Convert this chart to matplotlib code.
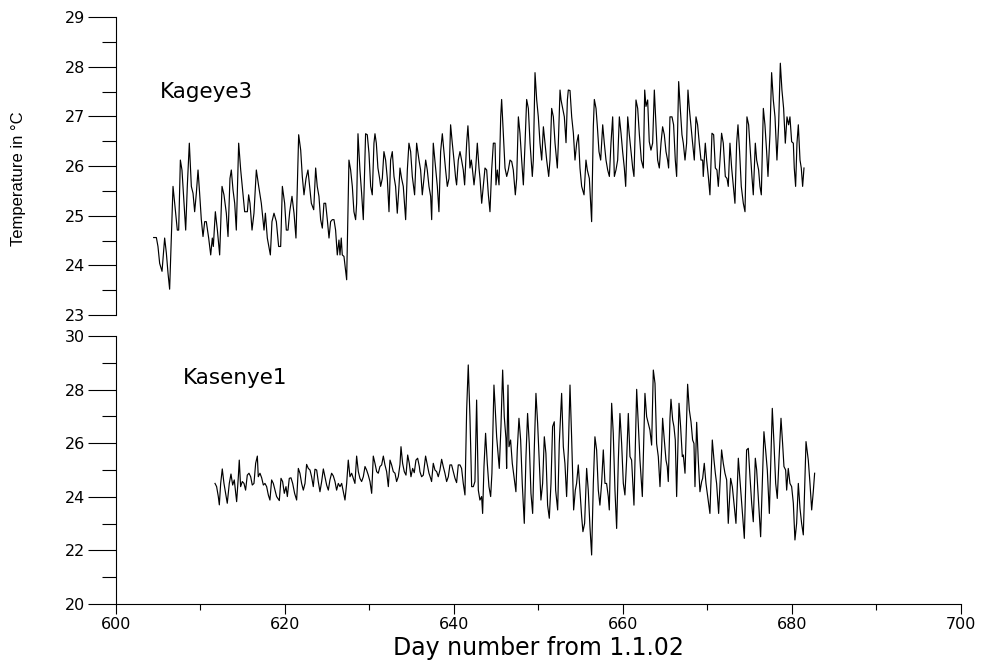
import matplotlib
matplotlib.use("Agg")
import matplotlib.pyplot as plt
from matplotlib.ticker import MultipleLocator

plt.rcParams['font.family'] = ['DejaVu Sans']

# Kageye3 (top panel) - day number, temperature
kageye_day = [
    604.46, 604.78, 604.97, 605.17, 605.45, 605.68, 605.76, 605.96, 606.16, 606.35,
    606.55, 606.75, 606.95, 607.26, 607.42, 607.62, 607.81, 608.05, 608.25, 608.44,
    608.68, 608.92, 609.12, 609.31, 609.51, 609.71, 609.90, 610.10, 610.30, 610.50,
    610.69, 610.97, 611.21, 611.40, 611.52, 611.76, 612.00, 612.27, 612.55, 612.78,
    613.06, 613.26, 613.49, 613.65, 613.85, 614.05, 614.24, 614.52, 614.76, 615.03,
    615.23, 615.55, 615.70, 615.86, 616.10, 616.33, 616.61, 616.89, 617.20, 617.52,
    617.68, 617.91, 618.27, 618.46, 618.70, 618.98, 619.25, 619.49, 619.69, 619.96,
    620.16, 620.36, 620.56, 620.83, 621.07, 621.30, 621.62, 621.86, 622.05, 622.25,
    622.49, 622.72, 622.92, 623.12, 623.40,
    623.63, 623.82, 624.02, 624.22, 624.42, 624.61, 624.81, 625.01, 625.21, 625.40,
    625.60, 625.80, 625.99, 626.19, 626.39, 626.51, 626.66, 626.78, 626.98, 627.30,
    627.57, 627.77, 627.97, 628.16, 628.36, 628.48, 628.64, 628.87, 629.07, 629.27,
    629.54, 629.74, 629.94, 630.14, 630.33, 630.53, 630.65, 630.81, 631.00, 631.20,
    631.32, 631.52, 631.71, 631.91, 632.11, 632.31, 632.50, 632.70, 632.90, 633.09,
    633.29, 633.49, 633.61, 633.80, 634.00, 634.28, 634.48, 634.67, 634.87, 635.07,
    635.34, 635.58, 635.86, 636.05, 636.25, 636.45, 636.65, 636.84, 637.04, 637.24,
    637.36, 637.55, 637.83, 638.03, 638.22, 638.42, 638.62, 638.81, 639.01, 639.21,
    639.41, 639.60, 639.80, 640.00, 640.20, 640.31, 640.51, 640.71, 640.90, 641.10,
    641.26, 641.50, 641.65, 641.77, 641.89, 642.05, 642.17, 642.37, 642.56, 642.76,
    642.96,
    643.08, 643.28, 643.47, 643.67, 643.87, 644.07, 644.26, 644.46, 644.66, 644.86,
    644.97, 645.13, 645.33, 645.53, 645.64, 645.84, 646.04, 646.24, 646.43, 646.63,
    646.83, 647.02, 647.26, 647.42, 647.62, 647.81, 648.01, 648.21, 648.41, 648.60,
    648.80, 649.00, 649.27, 649.39, 649.59, 649.79, 649.98, 650.18, 650.38, 650.58,
    650.77, 650.97, 651.21, 651.36, 651.56, 651.76, 651.96, 652.23, 652.35, 652.55,
    652.67, 652.86, 653.06, 653.26, 653.42, 653.53, 653.73, 653.93, 654.13, 654.32,
    654.52, 654.72, 654.91, 655.11, 655.39, 655.62, 655.78, 656.02, 656.29, 656.49,
    656.61, 656.81, 656.97, 657.16, 657.36, 657.60, 657.79, 657.99, 658.19, 658.39,
    658.58, 658.78, 658.98, 659.17, 659.37, 659.57, 659.77, 659.96, 660.16, 660.32,
    660.56, 660.75, 660.95, 661.15, 661.30, 661.54, 661.74, 661.94, 662.17, 662.41,
    662.57, 662.72,
    662.92, 663.11, 663.31, 663.51, 663.71, 663.90, 664.10, 664.30, 664.50, 664.69,
    664.89, 665.09, 665.28, 665.40, 665.56, 665.80, 665.99, 666.19, 666.35, 666.59,
    666.78, 666.98, 667.14, 667.34, 667.53, 667.69, 667.85, 668.05, 668.24, 668.44,
    668.64, 668.83, 669.03, 669.23, 669.43, 669.50, 669.74, 669.90, 670.10, 670.29,
    670.53, 670.73, 670.93, 671.12, 671.28, 671.48, 671.67, 671.87, 672.11, 672.31,
    672.46, 672.66, 672.86, 673.06, 673.25, 673.45, 673.61, 673.80, 674.00, 674.24,
    674.44, 674.67, 674.87, 675.07, 675.26, 675.42, 675.66, 675.82, 676.05, 676.21,
    676.37, 676.61, 676.80, 677.00, 677.16, 677.39, 677.59, 677.79, 677.99, 678.22,
    678.42, 678.62, 678.81, 679.01, 679.21, 679.41, 679.60, 679.76, 679.96, 680.16,
    680.27, 680.43, 680.59, 680.75, 680.95, 681.10, 681.26, 681.42,
]
kageye_temp = [
    24.56, 24.56, 24.38, 24.04, 23.88, 24.38, 24.55, 24.25, 23.84, 23.52,
    24.55, 25.59, 25.25, 24.71, 24.71, 26.12, 25.92, 25.25, 24.71, 25.59,
    26.46, 25.59, 25.45, 25.08, 25.45, 25.92, 25.45, 24.92, 24.58, 24.88,
    24.88, 24.55, 24.21, 24.55, 24.38, 25.08, 24.71, 24.21, 25.59, 25.42,
    25.05, 24.58, 25.75, 25.92, 25.52, 25.25, 24.71, 26.46, 25.92, 25.45,
    25.08, 25.08, 25.42, 25.25, 24.71, 25.05, 25.92, 25.59, 25.25, 24.71,
    25.05, 24.55, 24.21, 24.88, 25.05, 24.88, 24.38, 24.38, 25.59, 25.25,
    24.71, 24.71, 25.08, 25.39, 25.05, 24.55, 26.63, 26.32, 25.79, 25.42,
    25.75, 25.92, 25.59, 25.25, 25.12,
    25.96, 25.59, 25.39, 24.92, 24.75, 25.25, 25.25, 24.92, 24.55, 24.88,
    24.92, 24.92, 24.71, 24.21, 24.51, 24.21, 24.55, 24.21, 24.18, 23.71,
    26.12, 25.92, 25.59, 25.08, 24.92, 25.25, 26.65, 25.92, 25.45, 24.92,
    26.65, 26.63, 26.26, 25.59, 25.42, 26.46, 26.65, 26.46, 25.96, 25.75,
    25.59, 25.75, 26.29, 26.12, 25.75, 25.08, 26.12, 26.29, 25.79, 25.59,
    25.05, 25.59, 25.96, 25.75, 25.59, 24.92, 25.92, 26.46, 26.29, 25.79,
    25.42, 26.46, 26.12, 25.92, 25.42, 25.75, 26.12, 25.92, 25.59, 25.39,
    24.92, 26.46, 25.96, 25.59, 25.08, 26.29, 26.65, 26.29, 25.92, 25.59,
    25.75, 26.83, 26.46, 26.12, 25.75, 25.62, 26.12, 26.29, 26.12, 25.92,
    25.62, 26.46, 26.81, 26.46, 25.96, 26.12, 25.96, 25.62, 25.92, 26.46,
    25.96,
    25.75, 25.25, 25.59, 25.96, 25.92, 25.42, 25.08, 25.92, 26.46, 26.46,
    25.62, 25.92, 25.62, 26.99, 27.34, 26.66, 25.96, 25.79, 25.92, 26.12,
    26.09, 25.92, 25.42, 25.75, 26.99, 26.66, 26.12, 25.62, 26.46, 27.34,
    27.16, 26.46, 25.79, 26.12, 27.88, 27.33, 26.99, 26.46, 26.12, 26.79,
    26.46, 26.12, 25.79, 26.12, 27.16, 26.99, 26.46, 25.96, 26.46, 27.53,
    27.33, 27.16, 26.99, 26.47, 27.33, 27.53, 27.52, 26.99, 26.66, 26.12,
    26.46, 26.63, 25.96, 25.59, 25.42, 26.12, 25.92, 25.75, 24.88, 26.79,
    27.34, 27.16, 26.79, 26.29, 26.12, 26.83, 26.46, 26.12, 25.92, 25.79,
    26.46, 26.99, 25.79, 25.92, 26.12, 26.99, 26.66, 26.29, 25.96, 25.59,
    26.99, 26.63, 26.29, 25.96, 25.79, 27.33, 27.16, 26.63, 26.12, 25.96,
    27.53, 27.20,
    27.33, 26.49, 26.32, 26.46, 27.53, 26.83, 26.12, 25.96, 26.46, 26.79,
    26.63, 26.29, 26.12, 25.96, 26.99, 26.99, 26.83, 26.12, 25.79, 27.70,
    27.16, 26.63, 26.46, 26.12, 26.46, 27.53, 27.16, 26.79, 26.46, 26.12,
    26.99, 26.83, 26.46, 26.12, 26.12, 25.79, 26.46, 26.12, 25.79, 25.42,
    26.66, 26.63, 25.96, 25.92, 25.59, 26.12, 26.66, 26.46, 25.79, 25.75,
    25.59, 26.46, 25.96, 25.59, 25.25, 26.46, 26.83, 26.29, 25.59, 25.25,
    25.08, 26.99, 26.83, 26.29, 25.79, 25.42, 26.46, 26.12, 25.92, 25.59,
    25.42, 27.16, 26.83, 26.29, 25.79, 26.63, 27.88, 27.33, 26.99, 26.12,
    26.83, 28.07, 27.53, 27.16, 26.46, 26.99, 26.83, 26.99, 26.49, 26.46,
    25.96, 25.59, 26.46, 26.83, 26.12, 25.96, 25.59, 25.96,
]

# Kasenye1 (bottom panel)
kasenye_day = [
    611.72, 611.91, 612.11, 612.23, 612.39, 612.58, 612.78, 612.98, 613.17, 613.41,
    613.61, 613.81, 614.00, 614.28, 614.48, 614.59, 614.75, 614.95, 615.15, 615.34,
    615.54, 615.74, 615.94, 616.13, 616.33, 616.53, 616.73, 616.84, 617.04, 617.24,
    617.44, 617.63, 617.83, 618.03, 618.22, 618.42, 618.62, 618.82, 619.01, 619.33,
    619.53, 619.72, 619.92, 620.12, 620.28, 620.51, 620.71, 620.91, 621.14, 621.38,
    621.58, 621.77, 621.97, 622.17, 622.37, 622.56, 622.76, 622.96, 623.15, 623.35,
    623.55, 623.75, 623.94, 624.14, 624.34, 624.54, 624.73, 624.93, 625.13, 625.32,
    625.52, 625.72, 625.92, 626.11, 626.31, 626.51, 626.71, 626.90, 627.10, 627.30,
    627.49, 627.69, 627.89, 628.09, 628.28, 628.48, 628.68, 628.87, 629.07, 629.27,
    629.47, 629.66, 629.86, 630.06, 630.26, 630.45, 630.65, 630.85, 631.04, 631.24,
    631.44, 631.64, 631.83, 632.03, 632.23, 632.43, 632.62, 632.82, 633.02, 633.21,
    633.41, 633.61, 633.73, 633.92, 634.12, 634.32, 634.52, 634.71, 634.91, 635.11,
    635.30, 635.50, 635.70, 635.90,
    635.97, 636.17, 636.37, 636.64, 636.84, 637.04, 637.24, 637.35, 637.55, 637.75,
    637.95, 638.14, 638.34, 638.54, 638.73, 638.93, 639.13, 639.33, 639.52, 639.72,
    639.92, 640.12, 640.31, 640.51, 640.71, 640.90, 641.10, 641.30, 641.50, 641.69,
    641.89, 642.09, 642.29, 642.48, 642.68, 642.88, 643.07, 643.27, 643.39, 643.55,
    643.74, 643.94, 644.14, 644.34, 644.49, 644.73, 644.85, 645.05, 645.24, 645.36,
    645.56, 645.76, 645.95, 646.15, 646.23, 646.39, 646.51, 646.70, 646.90, 647.10,
    647.33, 647.49, 647.69, 647.89, 648.08, 648.32, 648.52, 648.71, 648.91, 649.11,
    649.31, 649.50, 649.70, 649.90, 650.10, 650.29, 650.49, 650.69, 650.88, 651.08,
    651.28, 651.48, 651.67, 651.87, 652.03, 652.27, 652.46, 652.74, 652.94, 653.13,
    653.33, 653.53, 653.73, 653.92, 654.16, 654.36, 654.51, 654.71, 654.91, 655.11,
    655.26, 655.46, 655.70, 655.89, 656.09, 656.29, 656.49, 656.68, 656.88, 657.08,
    657.27, 657.47, 657.67, 657.87, 658.06, 658.26, 658.38, 658.66, 658.85, 659.05,
    659.25, 659.45, 659.64, 659.84, 660.04, 660.23, 660.43, 660.63,
    660.83, 661.02, 661.30, 661.62, 661.81, 662.01, 662.29, 662.60, 662.80, 663.00,
    663.19, 663.39, 663.59, 663.79, 663.98, 664.18, 664.38, 664.57, 664.69, 664.89,
    665.09, 665.24, 665.36, 665.56, 665.68, 665.88, 666.03, 666.19, 666.35, 666.63,
    666.82, 667.02, 667.14, 667.34, 667.65, 667.85, 668.05, 668.24, 668.40, 668.52,
    668.72, 668.91, 669.11, 669.31, 669.43, 669.62, 669.82, 670.02, 670.29, 670.57,
    670.77, 670.93, 671.08, 671.32, 671.67, 671.87, 672.07, 672.27, 672.46, 672.74,
    672.94, 673.13, 673.37, 673.65, 673.84, 674.04, 674.36, 674.63, 674.83, 675.03,
    675.23, 675.42, 675.66, 675.82, 676.01, 676.29, 676.68, 676.88, 677.08, 677.32,
    677.67, 677.87, 678.07, 678.26, 678.46, 678.70, 678.89, 679.05, 679.25, 679.37,
    679.56, 679.76, 679.96, 680.16, 680.35, 680.55, 680.75, 680.95, 681.14, 681.34,
    681.66, 681.93, 682.13, 682.33, 682.52, 682.68,
]
kasenye_temp = [
    24.50, 24.38, 24.01, 23.70, 24.50, 25.04, 24.50, 24.13, 23.76, 24.50,
    24.85, 24.44, 24.63, 23.82, 24.75, 25.37, 24.38, 24.57, 24.50, 24.25,
    24.81, 24.88, 24.75, 24.44, 24.50, 25.25, 25.52, 24.75, 24.88, 24.71,
    24.44, 24.50, 24.38, 24.07, 23.88, 24.63, 24.50, 24.25, 24.01, 23.86,
    24.69, 24.57, 24.13, 24.38, 24.01, 24.69, 24.71, 24.50, 24.13, 23.88,
    25.06, 24.88, 24.50, 24.25, 24.50, 25.21, 25.06, 25.00, 24.75, 24.38,
    25.03, 25.00, 24.57, 24.19, 24.57, 25.04, 24.75, 24.44, 24.25, 24.63,
    24.88, 24.78, 24.57, 24.25, 24.50, 24.38, 24.50, 24.19, 23.88, 24.50,
    25.37, 24.75, 24.88, 24.69, 24.50, 25.52, 24.94, 24.69, 24.57, 24.75,
    25.13, 25.00, 24.81, 24.57, 24.13, 25.52, 25.25, 24.94, 24.88, 25.13,
    25.19, 25.52, 25.19, 24.94, 24.38, 25.37, 25.19, 24.94, 24.88, 24.57,
    24.75, 25.21, 25.87, 25.25, 24.94, 24.81, 25.56, 25.25, 24.75, 25.06,
    24.90, 25.37, 25.44, 25.13,
    24.94, 24.75, 24.81, 25.52, 25.19, 24.88, 24.69, 24.57, 25.25, 25.00,
    24.94, 24.75, 25.00, 25.40, 25.13, 24.88, 24.57, 24.75, 25.19, 25.19,
    24.94, 24.69, 24.53, 25.19, 25.19, 25.06, 24.50, 24.07, 27.24, 28.92,
    26.99, 24.38, 24.38, 24.57, 27.61, 24.25, 23.88, 24.01, 23.38, 25.13,
    26.37, 25.25, 24.38, 24.01, 24.88, 28.17, 27.49, 26.24, 25.50, 25.06,
    26.62, 28.73, 26.99, 26.18, 25.06, 28.17, 25.87, 26.12, 25.25, 24.75,
    24.19, 25.75, 26.93, 26.12, 24.50, 23.01, 25.50, 27.11, 25.99, 24.13,
    23.38, 25.75, 27.86, 26.74, 25.25, 23.88, 24.50, 26.24, 25.62, 23.69,
    23.20, 24.50, 26.62, 26.80, 24.25, 23.51, 25.99, 27.86, 25.87, 25.25,
    24.01, 25.75, 28.17, 26.24, 23.51, 24.25, 24.50, 25.19, 24.25, 23.26,
    22.70, 23.01, 25.06, 24.25, 22.89, 21.83, 24.50, 26.24, 25.75, 24.25,
    23.69, 24.50, 25.75, 24.50, 24.50, 24.01, 23.51, 27.49, 26.37, 24.25,
    22.82, 25.37, 27.11, 25.99, 24.50, 24.07, 25.37, 27.11,
    25.50, 25.37, 23.69, 28.01, 26.74, 25.37, 24.01, 27.86, 26.99, 26.74,
    26.49, 25.93, 28.73, 28.23, 25.99, 25.50, 24.38, 25.75, 26.93, 26.12,
    25.37, 25.13, 24.57, 26.93, 27.64, 26.87, 26.62, 26.12, 24.01, 27.49,
    26.62, 25.50, 25.56, 24.88, 28.20, 27.24, 26.80, 26.12, 25.99, 24.38,
    26.78, 25.37, 24.19, 24.57, 24.69, 25.25, 24.50, 24.01, 23.38, 26.12,
    25.37, 24.88, 24.50, 23.38, 25.75, 25.25, 24.88, 24.63, 23.01, 24.69,
    24.38, 23.76, 23.01, 25.44, 24.63, 23.76, 22.45, 25.75, 25.81, 24.75,
    23.76, 23.07, 25.44, 25.00, 24.01, 22.51, 26.43, 25.75, 25.00, 23.38,
    27.30, 25.99, 24.50, 23.94, 25.37, 26.93, 25.99, 25.13, 25.00, 24.25,
    25.06, 24.50, 24.38, 23.76, 22.39, 23.01, 24.50, 23.57, 23.01, 22.58,
    26.06, 25.37, 24.50, 23.51, 24.19, 24.88,
]

stations = ['Kageye3', 'Kasenye1']

fig = plt.figure(figsize=(9.82, 6.6), dpi=100)
ax1 = fig.add_axes([0.1181, 0.5227, 0.8605, 0.4515])
ax2 = fig.add_axes([0.1181, 0.0848, 0.8605, 0.4061])

ax1.plot(kageye_day, kageye_temp, color='black', lw=0.85)
ax2.plot(kasenye_day, kasenye_temp, color='black', lw=0.85)

for ax in (ax1, ax2):
    ax.set_xlim(600, 700)
    ax.spines['top'].set_visible(False)
    ax.spines['right'].set_visible(False)
    ax.tick_params(axis='y', which='major', length=20, width=0.8, pad=2, labelsize=11.5)
    ax.tick_params(axis='y', which='minor', length=10, width=0.8)

ax1.set_ylim(23, 29)
ax1.yaxis.set_major_locator(MultipleLocator(1))
ax1.yaxis.set_minor_locator(MultipleLocator(0.5))
ax1.spines['bottom'].set_visible(False)
ax1.tick_params(axis='x', which='both', bottom=False, labelbottom=False)

ax2.set_ylim(20, 30)
ax2.yaxis.set_major_locator(MultipleLocator(2))
ax2.yaxis.set_minor_locator(MultipleLocator(1))
ax2.xaxis.set_major_locator(MultipleLocator(20))
ax2.xaxis.set_minor_locator(MultipleLocator(10))
ax2.tick_params(axis='x', which='major', length=7, width=0.8, pad=2, labelsize=11.5)
ax2.tick_params(axis='x', which='minor', length=4, width=0.8)
ax2.set_xlabel('Day number from 1.1.02', fontsize=17)
ax2.xaxis.set_label_coords(0.5, -0.118)

ax1.text(605.2, 27.5, stations[0], fontsize=15.5, va='center')
ax2.text(607.9, 28.45, stations[1], fontsize=15.5, va='center')

fig.text(0.019, 0.73, 'Temperature in °C', rotation=90, fontsize=12,
         va='center', ha='center', family='Liberation Sans')

fig.savefig('out.png', dpi=100)
